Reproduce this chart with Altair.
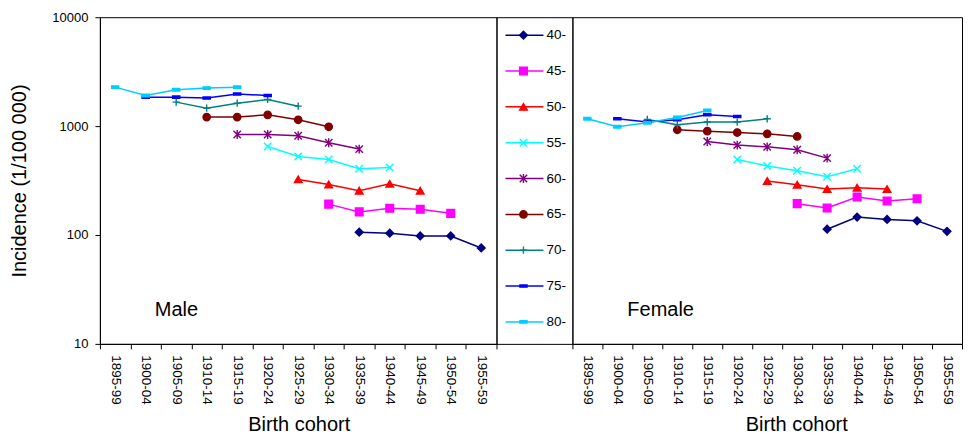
import altair as alt
import pandas as pd

cohorts = ["1895-99", "1900-04", "1905-09", "1910-14", "1915-19", "1920-24",
           "1925-29", "1930-34", "1935-39", "1940-44", "1945-49", "1950-54", "1955-59"]
groups = ["40-", "45-", "50-", "55-", "60-", "65-", "70-", "75-", "80-"]
first_cohort = [8, 7, 6, 5, 4, 3, 2, 1, 0]

male_40 = [106, 104, 98, 98, 76]
male_45 = [192, 163, 176, 172, 158]
male_50 = [324, 291, 255, 295, 255]
male_55 = [650, 526, 494, 406, 417]
male_60 = [837, 837, 815, 703, 615]
male_65 = [1210, 1210, 1270, 1143, 986]
male_70 = [1660, 1462, 1625, 1755, 1525]
male_75 = [1845, 1845, 1808, 1970, 1910]
male_80 = [2280, 1910, 2155, 2235, 2280]

female_40 = [113, 146, 139, 135, 108]
female_45 = [194, 177, 223, 205, 215]
female_50 = [313, 289, 264, 272, 264]
female_55 = [494, 430, 389, 343, 406]
female_60 = [722, 669, 645, 606, 508]
female_65 = [925, 899, 873, 849, 803]
female_70 = [1150, 1028, 1089, 1089, 1167]
female_75 = [1167, 1089, 1143, 1270, 1227]
female_80 = [1167, 986, 1071, 1200, 1390]

male_series = [male_40, male_45, male_50, male_55, male_60, male_65, male_70, male_75, male_80]
female_series = [female_40, female_45, female_50, female_55, female_60, female_65, female_70, female_75, female_80]

colors = ["#000080", "#FF00FF", "#FF0000", "#00FFFF", "#800080", "#800000", "#008080", "#0000FF", "#00CCFF"]
shapes = [
    "diamond",
    "square",
    "triangle-up",
    "M-1,-1L1,1M-1,1L1,-1",
    "M-1,-1L1,1M-1,1L1,-1M0,-1.2L0,1.2",
    "circle",
    "M-1,0L1,0M0,-1L0,1",
    "M-1,-0.3L1,-0.3L1,0.3L-1,0.3Z",
    "M-1,-0.35L1,-0.35L1,0.35L-1,0.35Z",
]
sizes = [60, 50, 70, 55, 50, 60, 60, 25, 45]

FONT = "Liberation Sans"


def build_df(series):
    rows = []
    for g, start, vals in zip(groups, first_cohort, series):
        for k, v in enumerate(vals):
            rows.append({"group": g, "cohort": cohorts[start + k], "value": v})
    return pd.DataFrame(rows)


color_scale = alt.Scale(domain=groups, range=colors)
shape_scale = alt.Scale(domain=groups, range=shapes)
size_scale = alt.Scale(domain=groups, range=sizes)


def panel(df, label, show_y, width, title_x):
    x = alt.X(
        "cohort:N",
        sort=cohorts,
        scale=alt.Scale(type="band", domain=cohorts, paddingInner=0, paddingOuter=0),
        axis=alt.Axis(
            title="Birth cohort", labelAngle=90, tickBand="extent", labelFontSize=13.5,
            titleFontSize=20, titleFontWeight="normal", labelPadding=6, titlePadding=10,
            titleX=title_x,
        ),
    )
    if show_y:
        yaxis = alt.Axis(
            title="Incidence (1/100 000)", values=[10, 100, 1000, 10000], format="d",
            labelFontSize=13, titleFontSize=20, titleFontWeight="normal",
            labelPadding=7, titlePadding=22, grid=False,
        )
    else:
        yaxis = None
    y = alt.Y("value:Q", scale=alt.Scale(type="log", domain=[10, 10000]), axis=yaxis)
    base = alt.Chart(df)
    lines = base.mark_line(strokeWidth=1.5).encode(
        x=x, y=y,
        color=alt.Color("group:N", scale=color_scale, legend=None),
        detail="group:N",
    )
    pts = base.mark_point(filled=True, strokeWidth=1.4, opacity=1).encode(
        x=x, y=y,
        fill=alt.Fill("group:N", scale=color_scale, legend=None),
        stroke=alt.Stroke("group:N", scale=color_scale, legend=None),
        shape=alt.Shape("group:N", scale=shape_scale, legend=None),
        size=alt.Size("group:O", scale=size_scale, legend=None),
    )
    txt = alt.Chart(pd.DataFrame({"t": [label]})).mark_text(
        align="left", baseline="middle", fontSize=20, font=FONT, color="black"
    ).encode(text="t:N", x=alt.value(55), y=alt.value(293))
    return alt.layer(lines, pts, txt).properties(width=width, height=327)


male = panel(build_df(male_series), "Male", True, 397, 199)
female = panel(build_df(female_series), "Female", False, 390, 224)

leg_df = pd.DataFrame({"group": groups})
ly = alt.Y("group:N", sort=groups,
           scale=alt.Scale(type="point", domain=groups, range=[18, 305], padding=0), axis=None)
leg_rule = alt.Chart(leg_df).mark_rule(strokeWidth=1.5).encode(
    y=ly, x=alt.value(9), x2=alt.value(47),
    color=alt.Color("group:N", scale=color_scale, legend=None),
)
leg_pts = alt.Chart(leg_df).mark_point(filled=True, strokeWidth=1.4, opacity=1).encode(
    y=ly, x=alt.value(27),
    fill=alt.Fill("group:N", scale=color_scale, legend=None),
    stroke=alt.Stroke("group:N", scale=color_scale, legend=None),
    shape=alt.Shape("group:N", scale=shape_scale, legend=None),
    size=alt.Size("group:O", scale=size_scale, legend=None),
)
leg_txt = alt.Chart(leg_df).mark_text(
    align="left", baseline="middle", fontSize=13.5, font=FONT, color="black"
).encode(y=ly, x=alt.value(50), text="group:N")
legend = alt.layer(leg_rule, leg_pts, leg_txt).properties(width=76, height=327)

chart = alt.hconcat(male, legend, female, spacing=0, bounds="flush").properties(
    padding={"left": 1, "top": 2, "right": 0, "bottom": 0}
).configure_view(
    stroke="black", strokeWidth=1
).configure_axis(
    labelFont=FONT, titleFont=FONT, labelColor="black", titleColor="black",
    domainColor="black", tickColor="black", tickSize=5, grid=False,
).configure_scale(
    bandPaddingInner=0
)

chart.save("out.html", embed_options={"renderer": "svg", "actions": False})
